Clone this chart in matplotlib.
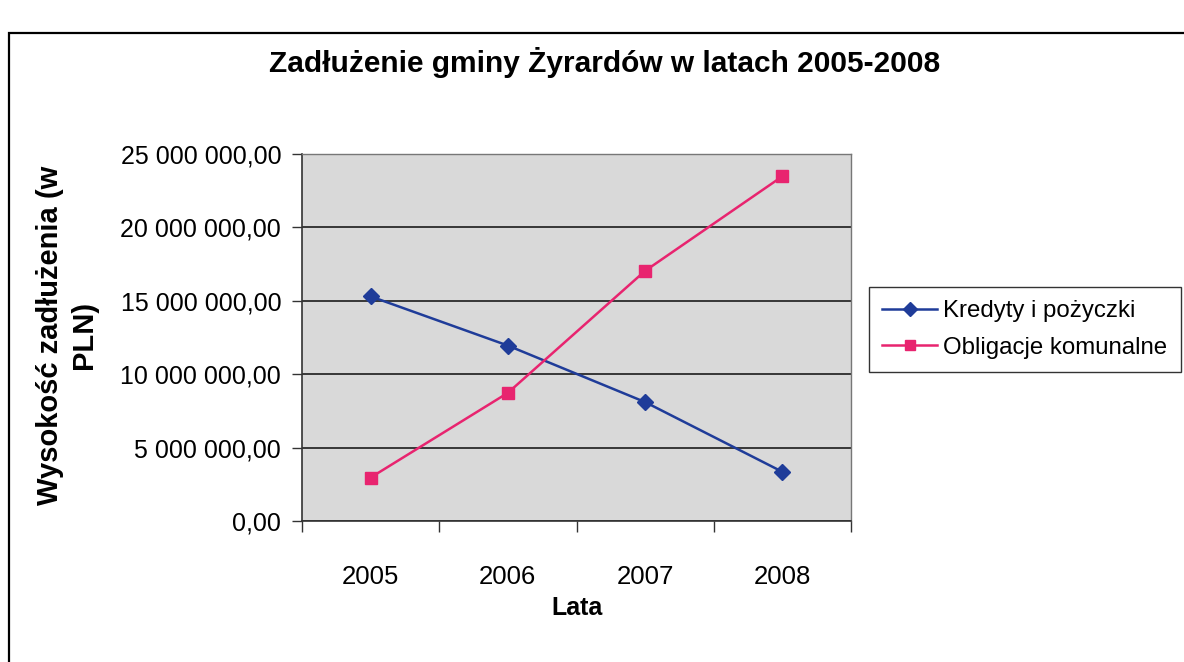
import matplotlib
matplotlib.use("Agg")
import matplotlib.pyplot as plt
from matplotlib.patches import Rectangle
from matplotlib.ticker import FuncFormatter

plt.rcParams['font.family'] = ['Liberation Sans', 'DejaVu Sans']

# data
years = ['2005', '2006', '2007', '2008']
kredyty = [15.3e6, 11.95e6, 8.1e6, 3.35e6]
obligacje = [2.96e6, 8.73e6, 17.04e6, 23.48e6]

fig = plt.figure(figsize=(11.84, 6.62), dpi=100)

# outer chart frame (cut off on the right and bottom in the scan)
fig.patches.append(Rectangle((9 / 1184, -0.1), 1.2, (662 - 33) / 662 + 0.1,
                             transform=fig.transFigure, fill=False,
                             edgecolor='black', linewidth=1.6))

ax = fig.add_axes([302 / 1184, (662 - 521) / 662, 549 / 1184, 367 / 662])
ax.set_facecolor('#d9d9d9')

x = range(1, len(years) + 1)
ax.plot(x, kredyty, color='#1f3c99', marker='D', markersize=8, linewidth=1.8,
        label='Kredyty i pożyczki')
ax.plot(x, obligacje, color='#e8246f', marker='s', markersize=8.5, linewidth=1.8,
        label='Obligacje komunalne')

ax.set_xlim(0.5, 4.5)
ax.set_ylim(0, 25e6)
ax.set_yticks([0, 5e6, 10e6, 15e6, 20e6, 25e6])
ax.yaxis.set_major_formatter(FuncFormatter(
    lambda v, p: f"{v:,.2f}".replace(',', ' ').replace('.', ',')))
ax.set_xticks([0.5, 1.5, 2.5, 3.5, 4.5])
ax.set_xticks([1, 2, 3, 4], minor=True)
ax.set_xticklabels([''] * 5)
ax.set_xticklabels(years, minor=True)
ax.tick_params(axis='x', which='minor', length=0, pad=32, labelsize=18.5)
ax.tick_params(axis='x', which='major', direction='out', length=8, width=1, color='#333333')
ax.tick_params(axis='y', direction='out', length=7, width=1, color='#333333',
               labelsize=18, pad=8)

ax.grid(axis='y', color='#2a2a2a', linewidth=1.3)
ax.set_axisbelow(True)
for side in ['left', 'bottom']:
    ax.spines[side].set_color('#333333')
    ax.spines[side].set_linewidth(1.2)
for side in ['top', 'right']:
    ax.spines[side].set_color('#777777')
    ax.spines[side].set_linewidth(1.0)

fig.text(605 / 1184, 1 - 62 / 662, 'Zadłużenie gminy Żyrardów w latach 2005-2008',
         ha='center', va='center', fontsize=21.5, fontweight='bold')
fig.text(577 / 1184, 1 - 608 / 662, 'Lata', ha='center', va='center',
         fontsize=18, fontweight='bold')
fig.text(67 / 1184, 1 - 335 / 662, 'Wysokość zadłużenia (w\nPLN)', ha='center',
         va='center', rotation=90, fontsize=21, fontweight='bold',
         linespacing=1.3)

leg = ax.legend(loc='upper left', bbox_to_anchor=(869 / 1184, 1 - 287 / 662),
                bbox_transform=fig.transFigure, frameon=True, fancybox=False,
                edgecolor='black', fontsize=17.3, handlelength=2.3,
                handletextpad=0.25, borderpad=0.55, labelspacing=0.6,
                borderaxespad=0)
leg.get_frame().set_linewidth(1.0)
for h in leg.get_lines():
    h.set_markersize(7)

fig.savefig('out.png', dpi=100)
